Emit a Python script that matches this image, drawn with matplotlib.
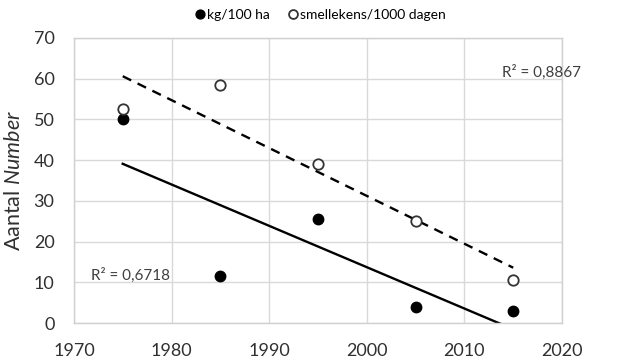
import matplotlib
matplotlib.use('Agg')
import matplotlib.pyplot as plt
import numpy as np

# data
years = [1975, 1985, 1995, 2005, 2015]
kg_per_100ha = [50, 11.5, 25.5, 4, 3]
smellekens = [52.5, 58.5, 39, 25, 10.5]
r2_kg = 'R² = 0,6718'
r2_sm = 'R² = 0,8867'

plt.rcParams['font.family'] = ['Lato', 'DejaVu Sans']
plt.rcParams['mathtext.fontset'] = 'custom'
plt.rcParams['mathtext.rm'] = 'Lato'
plt.rcParams['mathtext.it'] = 'Lato:italic'

fig = plt.figure(figsize=(6.21, 3.61), dpi=100)
ax = fig.add_axes([0.119, 0.105, 0.786, 0.79])

x = np.array(years, dtype=float)
xs = np.linspace(x.min(), x.max(), 200)

# linear trendlines
p_kg = np.polyfit(x, kg_per_100ha, 1)
p_sm = np.polyfit(x, smellekens, 1)
ax.plot(xs, np.polyval(p_kg, xs), color='black', lw=1.7, zorder=2)
ax.plot(xs, np.polyval(p_sm, xs), color='black', lw=1.7, ls=(0, (4, 3)), zorder=2)

ax.plot(years, kg_per_100ha, 'o', color='black', ms=7.5, label='kg/100 ha', zorder=3)
ax.plot(years, smellekens, 'o', mfc='white', mec='#333333', mew=1.3, ms=7.5,
        label='smellekens/1000 dagen', zorder=3)

ax.set_xlim(1970, 2020)
ax.set_ylim(0, 70)
ax.set_xticks(range(1970, 2021, 10))
ax.set_yticks(range(0, 71, 10))
ax.tick_params(length=0, labelsize=13, colors='#303030', pad=14)
ax.grid(True, color='#d9d9d9', lw=1)
ax.set_axisbelow(True)
for s in ax.spines.values():
    s.set_color('#d0d0d0')
    s.set_linewidth(1)

ax.set_ylabel('Aantal $\\mathit{Number}$', fontsize=15.5, color='#303030')
ax.yaxis.set_label_coords(-0.103, 0.5)

ax.text(2013.9, 61.5, r2_sm, fontsize=11, color='#404040', va='center')
ax.text(1971.8, 11.6, r2_kg, fontsize=11, color='#404040', va='center')

fig.legend(loc='center', bbox_to_anchor=(0.514, 0.958), ncol=2, frameon=False,
           fontsize=10, handletextpad=0.0, columnspacing=1.2, markerscale=0.85,
           handlelength=1.0, borderpad=0)

plt.savefig('out.png', dpi=100)
